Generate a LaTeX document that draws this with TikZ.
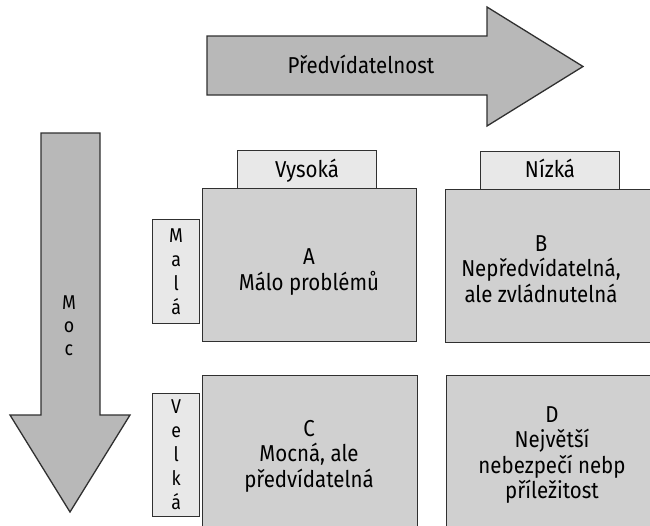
\documentclass[tikz,border=0pt]{standalone}
\usepackage{fontspec}
\setmainfont{Fira Sans}[FakeStretch=0.89]
\definecolor{arrowgray}{HTML}{B8B8B8}
\definecolor{boxgray}{HTML}{D0D0D0}
\definecolor{tabgray}{HTML}{E8E8E8}
\definecolor{edgegray}{HTML}{303030}
\begin{document}
\begin{tikzpicture}[x=1pt,y=-1pt,
  every node/.style={font=\fontsize{23}{25.5}\selectfont, text=black, inner sep=0pt},
  arrowshape/.style={draw=edgegray, fill=arrowgray, line width=1.3pt, line join=miter},
  quad/.style={draw=edgegray, fill=boxgray, line width=1.3pt, anchor=north west},
  tab/.style={draw=edgegray, fill=tabgray, line width=1.3pt, anchor=north west},
  lbl/.style={align=center},
  vlbl/.style={align=center, font=\fontsize{20}{24}\selectfont}]
\useasboundingbox (0,0) rectangle (650,525);
\clip (0,0) rectangle (650,525);
% horizontal arrow
\coordinate (h1) at (207,36);
\coordinate (h2) at (487,36);
\coordinate (h3) at (487,7);
\coordinate (h4) at (583,66.5);
\coordinate (h5) at (487,126);
\coordinate (h6) at (487,95);
\coordinate (h7) at (207,95);
\draw[arrowshape] (h1) -- (h2) -- (h3) -- (h4) -- (h5) -- (h6) -- (h7) -- cycle;
\node[anchor=base] (ptxt) at (361,73) {Předvídatelnost};
% vertical arrow
\coordinate (v1) at (41,133);
\coordinate (v2) at (100,133);
\coordinate (v3) at (100,415);
\coordinate (v4) at (130,415);
\coordinate (v5) at (70,512);
\coordinate (v6) at (10,415);
\coordinate (v7) at (41,415);
\draw[arrowshape] (v1) -- (v2) -- (v3) -- (v4) -- (v5) -- (v6) -- (v7) -- cycle;
\node[vlbl, font=\fontsize{20}{23}\selectfont] (moc) at (69,326) {M\\o\\c};
% quadrant boxes
\node[quad, minimum width=214pt, minimum height=153pt] (A) at (202,188) {};
\node[quad, minimum width=215pt, minimum height=153pt] (B) at (445,189) {};
\node[quad, minimum width=215pt, minimum height=160pt] (C) at (202,375) {};
\node[quad, minimum width=215pt, minimum height=160pt] (D) at (446,375) {};
% column tabs
\node[tab, minimum width=139pt, minimum height=38pt] (vys) at (237,150) {};
\node[tab, minimum width=139pt, minimum height=38pt] (niz) at (480,151) {};
\node[anchor=base] at (307,177) {Vysoká};
\node[anchor=base] at (550,177) {Nízká};
% row tabs
\node[tab, minimum width=47pt, minimum height=104pt] (mala) at (152,219) {};
\node[tab, minimum width=47pt, minimum height=123pt] (velka) at (152,393) {};
\node[vlbl] at (mala.center) {M\\a\\l\\á};
\node[vlbl] at (velka.center) {V\\e\\l\\k\\á};
% quadrant texts
\node[lbl] (At) at (309,272) {A\\Málo problémů};
\node[lbl] (Bt) at (541,269) {B\\Nepředvídatelná,\\ale zvládnutelná};
\node[lbl] (Ct) at (309,456) {C\\Mocná, ale\\předvídatelná};
\node[lbl] (Dt) at (552,455) {D\\Největší\\nebezpečí nebp\\příležitost};
\end{tikzpicture}
\end{document}
